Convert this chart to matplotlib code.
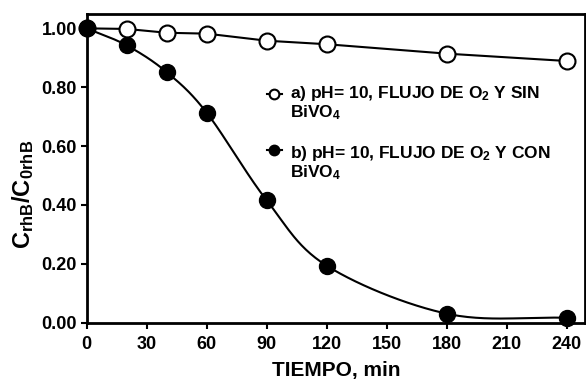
import numpy as np
import matplotlib
matplotlib.use('Agg')
import matplotlib.pyplot as plt

plt.rcParams['font.family'] = ['Liberation Sans', 'DejaVu Sans']
plt.rcParams['font.weight'] = 'bold'
plt.rcParams['mathtext.fontset'] = 'custom'
plt.rcParams['mathtext.rm'] = 'Liberation Sans:bold'
plt.rcParams['mathtext.it'] = 'Liberation Sans:bold'
plt.rcParams['mathtext.bf'] = 'Liberation Sans:bold'
plt.rcParams['mathtext.default'] = 'bf'

# data
tiempo = [0, 20, 40, 60, 90, 120, 180, 240]
sin_bivo4 = [1.00, 0.998, 0.985, 0.982, 0.958, 0.946, 0.914, 0.889]
con_bivo4 = [1.00, 0.942, 0.851, 0.713, 0.415, 0.193, 0.030, 0.016]

label_a = ['a) pH= 10, FLUJO DE O$_2$ Y SIN', 'BiVO$_4$']
label_b = ['b) pH= 10, FLUJO DE O$_2$ Y CON', 'BiVO$_4$']
xticks = [0, 30, 60, 90, 120, 150, 180, 210, 240]
yticks = [0.0, 0.2, 0.4, 0.6, 0.8, 1.0]


def smooth(x, y, n=30):
    # catmull-rom curve through the measured points (for the drawn line only)
    x = np.asarray(x, float)
    y = np.asarray(y, float)
    px = np.concatenate([[2 * x[0] - x[1]], x, [2 * x[-1] - x[-2]]])
    py = np.concatenate([[2 * y[0] - y[1]], y, [2 * y[-1] - y[-2]]])
    xs, ys = [], []
    t = np.linspace(0, 1, n)
    for i in range(1, len(px) - 2):
        for p, out in ((px, xs), (py, ys)):
            p0, p1, p2, p3 = p[i - 1], p[i], p[i + 1], p[i + 2]
            out.extend(0.5 * ((2 * p1) + (-p0 + p2) * t
                              + (2 * p0 - 5 * p1 + 4 * p2 - p3) * t ** 2
                              + (-p0 + 3 * p1 - 3 * p2 + p3) * t ** 3))
    return xs, ys


fig = plt.figure(figsize=(5.86, 3.79), dpi=100)
ax = fig.add_axes([0.148, 0.149, 0.850, 0.815])

ax.plot(tiempo, sin_bivo4, color='black', lw=1.5, marker='o', ms=11.5,
        mfc='white', mec='black', mew=1.5, clip_on=False, zorder=3)
sx, sy = smooth(tiempo, con_bivo4)
ax.plot(sx, sy, color='black', lw=1.5, zorder=2)
ax.plot(tiempo, con_bivo4, ls='none', marker='o', ms=11.5,
        mfc='black', mec='black', clip_on=False, zorder=3)

ax.set_xlim(0, 249)
ax.set_ylim(0, 1.05)
ax.set_xticks(xticks)
ax.set_yticks(yticks)
ax.set_yticklabels(['%.2f' % v for v in yticks])
ax.tick_params(direction='out', length=4, width=1.5, labelsize=13, pad=3)
ax.tick_params(axis='x', pad=6)
for s in ax.spines.values():
    s.set_linewidth(2)

ax.set_xlabel('TIEMPO, min', fontsize=15, fontweight='bold', va='baseline')
ax.xaxis.set_label_coords(0.5, -0.174)
ax.set_ylabel('C$_{rhB}$/C$_{0rhB}$', fontsize=17, fontweight='bold')
ax.yaxis.set_label_coords(-0.102, 0.415)

# legend drawn by hand to match the layout
for yy, hy, lab, fc in ((0.741, 0.741, label_a, 'white'),
                        (0.546, 0.560, label_b, 'black')):
    ax.plot([0.361, 0.393], [hy, hy], transform=ax.transAxes, color='black', lw=1.5)
    ax.plot([0.376], [hy], transform=ax.transAxes, marker='o', ms=7,
            mfc=fc, mec='black', mew=1.5)
    ax.text(0.409, yy, lab[0], transform=ax.transAxes, fontsize=12.5,
            fontweight='bold', va='center')
    ax.text(0.409, yy - 0.062, lab[1], transform=ax.transAxes, fontsize=12.5,
            fontweight='bold', va='center')

fig.savefig('out.png', dpi=100)
